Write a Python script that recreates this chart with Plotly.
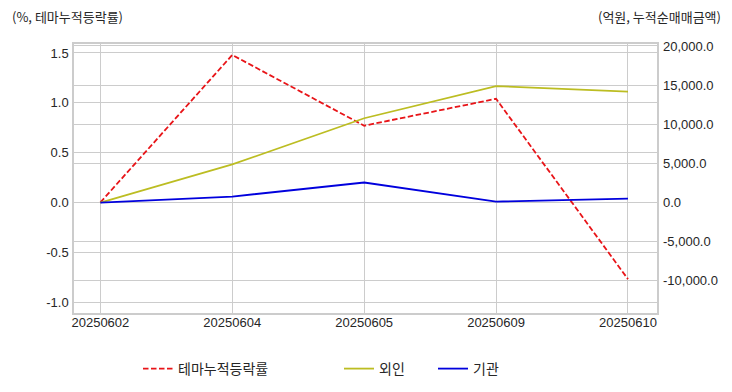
import plotly.graph_objects as go

dates = ["20250602", "20250604", "20250605", "20250609", "20250610"]
theme_return = [0.0, 1.48, 0.77, 1.04, -0.77]
foreign = [0.0, 4870.0, 10770.0, 14870.0, 14170.0]
institution = [0.0, 770.0, 2560.0, 130.0, 510.0]

left_ticks = [-1.0, -0.5, 0.0, 0.5, 1.0, 1.5]
left_labels = ["-1.0", "-0.5", "0.0", "0.5", "1.0", "1.5"]
right_ticks = [-10000, -5000, 0, 5000, 10000, 15000, 20000]
right_labels = ["-10,000.0", "-5,000.0", "0.0", "5,000.0", "10,000.0", "15,000.0", "20,000.0"]

TXT = "#262626"
GRID = "#cccccc"
FONT = "Liberation Sans, Arial, sans-serif"
KFONT = "Noto Sans CJK KR, sans-serif"

# page body has an 8px margin; work in page coordinates and convert
OFF = 8
W, H = 716, 376
L, R, T, B = 74 - OFF, 657 - OFF, 44 - OFF, 313 - OFF

def px_x(x_page):
    return (x_page - OFF - L) / (R - L)

def px_y(y_page):
    return (B - (y_page - OFF)) / (B - T)

fig = go.Figure()
fig.add_trace(go.Scatter(x=dates, y=theme_return, mode="lines", name="테마누적등락률", showlegend=True,
                         line=dict(color="#e81418", width=1.8, dash="5.5px,2.5px"), yaxis="y", legend="legend"))
fig.add_trace(go.Scatter(x=dates, y=foreign, mode="lines", name="외인", showlegend=True,
                         line=dict(color="#bcbd22", width=1.8), yaxis="y2", legend="legend2"))
fig.add_trace(go.Scatter(x=dates, y=institution, mode="lines", name="기관", showlegend=True,
                         line=dict(color="#0000dd", width=1.8), yaxis="y2", legend="legend3"))

legend_common = dict(orientation="h", yanchor="middle", xanchor="left", y=px_y(369),
                     font=dict(family=KFONT, size=14, color=TXT), bgcolor="rgba(0,0,0,0)")

fig.update_layout(
    width=W, height=H,
    showlegend=True,
    margin=dict(l=L, r=W - R, t=T, b=H - B, autoexpand=False),
    paper_bgcolor="white", plot_bgcolor="white",
    font=dict(family=FONT, size=13, color=TXT),
    xaxis=dict(type="category", range=[-0.2, 4.22], showgrid=True, gridcolor=GRID, gridwidth=1,
               showline=True, linecolor=GRID, linewidth=1.5, mirror=True, ticks="",
               ticklabelstandoff=-3,
               tickfont=dict(family=FONT, size=13, color=TXT), zeroline=False),
    yaxis=dict(range=[-1.11, 1.59], tickmode="array", tickvals=left_ticks, ticktext=left_labels,
               showgrid=True, gridcolor=GRID, gridwidth=1, showline=True, linecolor=GRID, linewidth=1.5,
               mirror=True, ticks="", zeroline=False, ticklabelstandoff=1,
               tickfont=dict(family=FONT, size=13, color=TXT)),
    yaxis2=dict(range=[-14100, 20250], tickmode="array", tickvals=right_ticks, ticktext=right_labels,
                overlaying="y", side="right", showgrid=True, gridcolor=GRID, gridwidth=1, zeroline=False,
                showline=False, ticks="", ticklabelstandoff=5,
                tickfont=dict(family=FONT, size=13, color=TXT)),
    legend=dict(x=px_x(138), **legend_common),
    legend2=dict(x=px_x(339), **legend_common),
    legend3=dict(x=px_x(433), **legend_common),
    annotations=[
        dict(text="(%, 테마누적등락률)", xref="paper", yref="paper", x=px_x(10), y=px_y(16),
             xanchor="left", yanchor="middle", showarrow=False,
             font=dict(family=KFONT, size=13, color=TXT)),
        dict(text="(억원, 누적순매매금액)", xref="paper", yref="paper", x=px_x(723), y=px_y(16),
             xanchor="right", yanchor="middle", showarrow=False,
             font=dict(family=KFONT, size=13, color=TXT)),
    ],
)

fig.write_html("out.html")
